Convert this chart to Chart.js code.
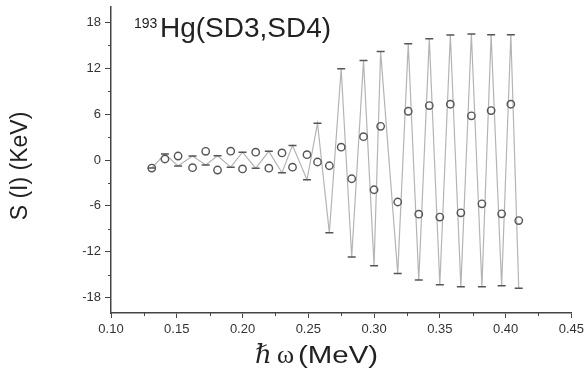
<!DOCTYPE html>
<html><head><meta charset="utf-8">
<script src="https://cdn.jsdelivr.net/npm/chart.js@4"></script>
<style>html,body{margin:0;padding:0;background:#fff}#c{display:block}</style>
</head><body>
<canvas id="c" width="588" height="369"></canvas>
<script>
// rotational frequency (MeV)
const omega = [0.131,0.141,0.151,0.162,0.172,0.181,0.191,0.200,0.210,0.220,0.230,0.238,0.249,0.257,0.266,0.275,0.283,0.292,0.300,0.305,0.318,0.326,0.334,0.342,0.350,0.358,0.366,0.374,0.382,0.389,0.397,0.404,0.410];
// S(I) open circles (keV)
const expS = [-1.05,0.13,0.52,-1.0,1.13,-1.31,1.15,-1.17,1.02,-1.07,0.92,-0.94,0.69,-0.26,-0.75,1.68,-2.45,3.05,-3.89,4.40,-5.49,6.37,-7.08,7.12,-7.46,7.29,-6.91,5.77,-5.73,6.46,-7.04,7.29,-7.92];
// S(I) zigzag line with dash markers (keV)
const calcS = [-1.05,0.79,-0.79,0.52,-0.66,0.56,-0.94,1.02,-1.07,1.13,-1.66,1.91,-2.58,4.80,-9.50,11.93,-12.67,13.01,-13.81,14.17,-14.84,15.18,-15.69,15.86,-16.30,16.33,-16.57,16.46,-16.57,16.38,-16.43,16.38,-16.78];
const xTicks = [0.10,0.15,0.20,0.25,0.30,0.35,0.40,0.45];
const xMinor = [0.125,0.175,0.225,0.275,0.325,0.375,0.425];
const yTicks = [-18,-12,-6,0,6,12,18];
const yMinor = [-15,-9,-3,3,9,15];
const titleSup = '193';
const titleMain = 'Hg(SD3,SD4)';
const yTitle = 'S (I) (KeV)';
const xTitleSym1 = 'ℏ';
const xTitleSym2 = 'ω';
const xTitleUnit = '(MeV)';

const deco = {
  id: 'deco',
  afterDraw(chart) {
    const ctx = chart.ctx, xs = chart.scales.x, ys = chart.scales.y;
    const L = chart.chartArea.left, B = chart.chartArea.bottom;
    ctx.save();
    ctx.strokeStyle = '#444'; ctx.lineWidth = 1;
    yMinor.forEach(v => { const p = Math.round(ys.getPixelForValue(v)) + 0.5; ctx.beginPath(); ctx.moveTo(L - 3, p); ctx.lineTo(L, p); ctx.stroke(); });
    xMinor.forEach(v => { const p = Math.round(xs.getPixelForValue(v)) + 0.5; ctx.beginPath(); ctx.moveTo(p, B); ctx.lineTo(p, B + 3); ctx.stroke(); });
    ctx.fillStyle = '#222';
    ctx.textBaseline = 'alphabetic'; ctx.textAlign = 'left';
    ctx.font = '14px "Liberation Sans", Arial, sans-serif';
    ctx.fillText(titleSup, 134, 28);
    ctx.font = '28px "Liberation Sans", Arial, sans-serif';
    ctx.fillText(titleMain, 160, 37);
    // y title
    ctx.save();
    ctx.translate(21, 166); ctx.rotate(-Math.PI / 2);
    ctx.textAlign = 'center'; ctx.textBaseline = 'middle';
    ctx.font = '23px "Liberation Sans", Arial, sans-serif';
    ctx.fillText(yTitle, 0, 0);
    ctx.restore();
    // x title
    ctx.font = 'italic 26px "Liberation Serif", "DejaVu Serif", serif';
    ctx.fillText(xTitleSym1, 255, 363);
    ctx.font = '26px "Liberation Serif", "DejaVu Serif", serif';
    ctx.fillText(xTitleSym2, 277, 363);
    ctx.save();
    ctx.translate(298, 363); ctx.scale(1.28, 1);
    ctx.font = '23px "Liberation Sans", Arial, sans-serif';
    ctx.fillText(xTitleUnit, 0, 0);
    ctx.restore();
    ctx.restore();
  }
};

new Chart(document.getElementById('c'), {
  type: 'scatter',
  data: {
    datasets: [
      {
        label: 'line',
        data: omega.map((x, i) => ({ x: x, y: calcS[i] })),
        showLine: true, tension: 0,
        borderColor: '#b4b4b4', borderWidth: 1.2,
        pointStyle: 'line', pointRadius: 4, pointBorderColor: '#555', pointBorderWidth: 1.5,
        order: 2
      },
      {
        label: 'circles',
        data: omega.map((x, i) => ({ x: x, y: expS[i] })),
        showLine: false,
        pointStyle: 'circle', pointRadius: 3.7,
        pointBorderColor: '#555', pointBackgroundColor: 'rgba(0,0,0,0)', pointBorderWidth: 1.4,
        order: 1
      }
    ]
  },
  options: {
    responsive: false, animation: false, devicePixelRatio: 1,
    layout: { padding: { left: 0, right: 15, top: 7, bottom: 0 } },
    plugins: { legend: { display: false }, tooltip: { enabled: false }, title: { display: false } },
    scales: {
      x: {
        type: 'linear', min: 0.10, max: 0.45,
        afterBuildTicks: s => { s.ticks = xTicks.map(v => ({ value: v })); },
        afterFit: s => { s.height = 56; },
        grid: { drawOnChartArea: false, drawTicks: true, tickLength: 5, color: '#444', tickWidth: 1 },
        border: { display: true, color: '#444', width: 1.5 },
        ticks: { font: { family: '"Liberation Sans", Arial, sans-serif', size: 13 }, color: '#333', padding: 4, maxRotation: 0, autoSkip: false, callback: v => Number(v).toFixed(2) }
      },
      y: {
        type: 'linear', min: -20, max: 20,
        afterBuildTicks: s => { s.ticks = yTicks.map(v => ({ value: v })); },
        afterFit: s => { s.width = 111; s.paddingTop = 0; s.paddingBottom = 0; },
        grid: { drawOnChartArea: false, drawTicks: true, tickLength: 6, color: '#444', tickWidth: 1 },
        border: { display: true, color: '#444', width: 1.5 },
        ticks: { font: { family: '"Liberation Sans", Arial, sans-serif', size: 13 }, color: '#333', padding: 4, autoSkip: false, callback: v => String(v) }
      }
    }
  },
  plugins: [deco]
});
</script>
</body></html>
